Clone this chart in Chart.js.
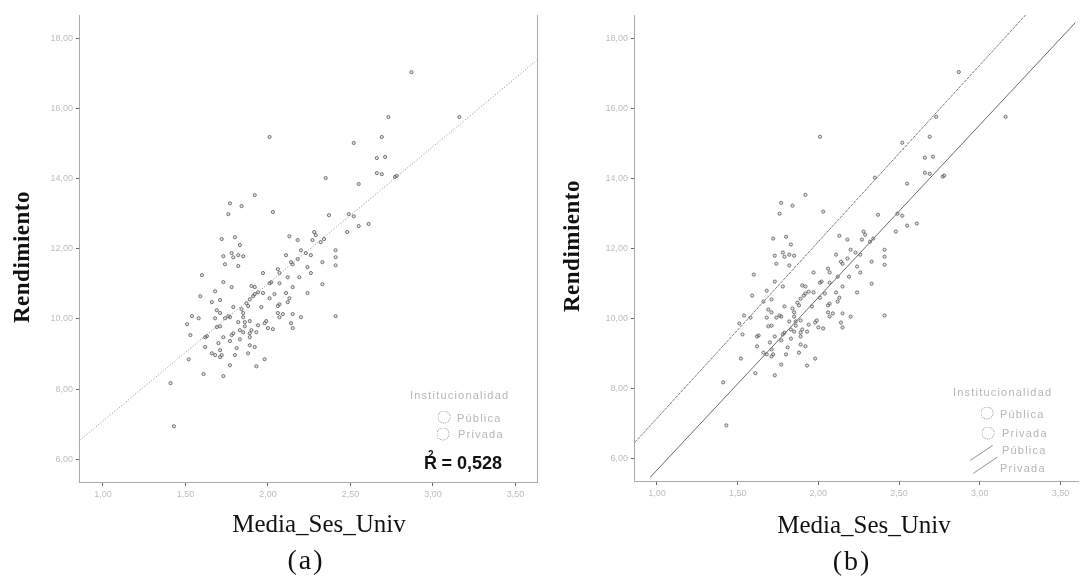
<!DOCTYPE html>
<html><head><meta charset="utf-8">
<script src="https://cdn.jsdelivr.net/npm/chart.js@4/dist/chart.umd.min.js"></script>
<style>
html,body{margin:0;padding:0;background:#fff;}
#wrap{position:relative;width:1081px;height:576px;overflow:hidden;background:#fff;}
.t{position:absolute;transform:translate(-50%,-50%);white-space:nowrap;}
.ser{font-family:"Liberation Serif","DejaVu Serif",serif;color:#111;}
.lg{position:absolute;white-space:nowrap;font-family:"Liberation Sans",Arial,sans-serif;color:#b5b5b5;font-size:11px;letter-spacing:1.2px;transform:translateY(-50%);}
.circ{position:absolute;width:11px;height:11px;border:1px dotted #888;border-radius:50%;transform:translate(-50%,-50%);}
.ln{position:absolute;height:0;border-top:1px solid #999;transform-origin:0 0;}
</style>
</head><body>
<div id="wrap">
  <div style="position:absolute;left:0;top:0;width:540px;height:576px"><canvas id="ca" width="540" height="576"></canvas></div>
  <div style="position:absolute;left:540px;top:0;width:541px;height:576px"><canvas id="cb" width="541" height="576"></canvas></div>

  <div class="t ser" style="left:22px;top:257px;transform:translate(-50%,-50%) rotate(-90deg);font-size:23px;font-weight:bold;letter-spacing:0.5px;">Rendimiento</div>
  <div class="t ser" style="left:572px;top:246px;transform:translate(-50%,-50%) rotate(-90deg);font-size:23px;font-weight:bold;letter-spacing:0.5px;">Rendimiento</div>
  <div class="t ser" style="left:319px;top:524px;font-size:25px;">Media_Ses_Univ</div>
  <div class="t ser" style="left:864px;top:525px;font-size:25px;">Media_Ses_Univ</div>
  <div class="t ser" style="left:306px;top:560px;font-size:28px;letter-spacing:2px;">(a)</div>
  <div class="t ser" style="left:852px;top:561px;font-size:28px;letter-spacing:2px;">(b)</div>

  <!-- legend a -->
  <div class="lg" style="left:410px;top:395px;">Institucionalidad</div>
  <div class="circ" style="left:444px;top:417px;"></div>
  <div class="lg" style="left:457px;top:418px;">Pública</div>
  <div class="circ" style="left:443px;top:434px;"></div>
  <div class="lg" style="left:458px;top:434px;">Privada</div>
  <div class="t" style="left:463px;top:463px;font-family:'Liberation Sans',Arial,sans-serif;font-weight:bold;font-size:18px;color:#111;">R<sup style="font-size:10px;margin-left:-9px;margin-right:3px;position:relative;top:-4px;">2</sup> = 0,528</div>

  <!-- legend b -->
  <div class="lg" style="left:953px;top:392px;">Institucionalidad</div>
  <div class="circ" style="left:987px;top:413px;"></div>
  <div class="lg" style="left:1000px;top:414px;">Pública</div>
  <div class="circ" style="left:988px;top:433px;"></div>
  <div class="lg" style="left:1002px;top:433px;">Privada</div>
  <div class="ln" style="left:970px;top:460px;width:27px;transform:rotate(-34deg);"></div>
  <div class="lg" style="left:1002px;top:450px;">Pública</div>
  <div class="ln" style="left:973px;top:473px;width:29px;transform:rotate(-34deg);"></div>
  <div class="lg" style="left:1000px;top:468px;">Privada</div>
</div>
<script>
// Media_Ses_Univ (x) and Rendimiento (y)
const publicaX = [2.87,2.73,2.01,2.69,2.52,2.35,1.92,1.77,1.84,2.03,1.76,1.72,1.80,2.13,1.83,1.73,1.78,1.79,1.82,1.85,1.74,1.82,1.97,1.60,1.73,1.90,1.78,1.59,1.68,1.66,1.71,1.79,1.69,1.71,1.68,1.54,1.58,1.51,1.53];
const publicaY = [17.04,15.76,15.19,15.19,15.02,14.02,13.53,13.30,13.22,13.05,12.99,12.28,12.33,12.36,12.11,11.79,11.88,11.76,11.82,11.79,11.56,11.51,11.31,11.25,11.05,10.94,10.91,10.65,10.79,10.48,10.54,10.34,10.25,10.17,10.02,10.08,10.02,9.85,9.54];
const privadaX = [2.66,2.71,2.66,2.69,2.77,2.78,3.16,2.55,2.37,2.49,2.52,2.55,2.61,2.48,2.28,2.29,2.18,2.27,2.32,2.34,2.20,2.23,2.26,2.41,2.41,2.11,2.18,2.33,2.15,2.14,2.41,2.06,2.07,2.24,2.26,2.12,2.19,2.33,2.02,2.01,2.07,1.92,2.15,1.87,1.89,1.91,1.92,1.94,1.88,1.97,2.04,2.11,2.13,2.12,2.24,2.01,2.07,2.06,1.96,1.84,1.85,1.85,1.77,1.76,1.74,2.06,2.09,2.07,2.15,2.20,2.41,1.86,1.89,1.82,1.99,1.98,1.94,1.71,1.69,2.14,2.15,2.00,2.03,1.83,1.85,1.90,1.89,1.93,1.86,1.79,1.78,1.63,1.62,1.73,1.77,1.83,1.89,1.70,1.89,1.92,1.62,1.81,1.71,1.66,1.68,1.72,1.71,1.80,1.88,1.52,1.98,1.77,1.93,1.61,1.73,1.41,1.43];
const privadaY = [14.59,14.62,14.16,14.13,14.05,14.08,15.76,13.85,12.96,12.99,12.93,12.65,12.71,12.48,12.48,12.39,12.25,12.25,12.19,12.28,11.96,11.88,11.82,11.96,11.76,11.82,11.71,11.62,11.56,11.62,11.53,11.42,11.31,11.48,11.31,11.19,11.19,10.99,11.05,11.02,11.02,10.91,10.91,10.45,10.56,10.65,10.71,10.76,10.37,10.74,10.71,10.74,10.59,10.48,10.74,10.59,10.42,10.37,10.34,10.28,10.17,10.05,10.05,10.08,10.02,10.17,10.14,10.05,10.14,10.05,10.08,9.91,9.94,9.91,9.94,9.88,9.82,9.79,9.77,9.88,9.74,9.74,9.71,9.68,9.62,9.68,9.59,9.62,9.79,9.59,9.54,9.51,9.48,9.48,9.37,9.42,9.48,9.31,9.25,9.20,9.20,9.17,9.11,9.02,8.97,8.97,8.91,8.97,9.02,8.85,8.85,8.68,8.65,8.43,8.37,8.17,6.94];
// fit lines: endpoints
const fitTotalX = [0.86, 3.63];
const fitTotalY = [6.54, 17.38];
const fitPublicaX = [0.864, 3.284];
const fitPublicaY = [6.456, 18.67];
const fitPrivadaX = [0.959, 3.592];
const fitPrivadaY = [5.458, 18.45];
const xTicks = [1.0, 1.5, 2.0, 2.5, 3.0, 3.5];
const yTicks = [6, 8, 10, 12, 14, 16, 18];

const pts = (xs, ys) => xs.map((x, i) => ({x: x, y: ys[i]}));
const fmt = v => Number(v).toFixed(2).replace('.', ',');

function scatterSet(label, xs, ys) {
  return {type: 'scatter', label, data: pts(xs, ys), pointRadius: 1.6, pointHoverRadius: 1.6,
    borderWidth: 1, borderColor: 'rgba(80,80,80,0.75)', backgroundColor: 'rgba(160,160,160,0.3)', order: 2};
}
function lineSet(label, xs, ys, color, dash) {
  return {type: 'line', label, data: pts(xs, ys), borderColor: color, borderWidth: 1, borderDash: dash,
    pointRadius: 0, fill: false, tension: 0, order: 1};
}

function makeChart(id, cfg) {
  const scales = {
    x: {type: 'linear', min: cfg.xMin, max: cfg.xMax,
      afterFit: s => { s.height = cfg.xH; },
      afterBuildTicks: s => { s.ticks = xTicks.map(v => ({value: v})); },
      ticks: {callback: fmt, color: '#bdbdbd', font: {size: 9, family: 'Liberation Sans'}, padding: 3, maxRotation: 0, autoSkip: false},
      grid: {drawOnChartArea: false, drawTicks: true, tickLength: 4, color: '#666'},
      border: {display: true, color: '#aaa', dash: [1, 3]}},
    y: {type: 'linear', min: 5.35, max: 18.67, position: 'left',
      afterFit: s => { s.width = cfg.yW; },
      afterBuildTicks: s => { s.ticks = yTicks.map(v => ({value: v})); },
      ticks: {callback: fmt, color: '#bdbdbd', font: {size: 9, family: 'Liberation Sans'}, padding: 3, autoSkip: false},
      grid: {drawOnChartArea: false, drawTicks: true, tickLength: 3, color: '#666'},
      border: {display: true, color: '#aaa', dash: [1, 3]}}
  };
  if (cfg.rightBorder) {
    scales.y2 = {type: 'linear', min: 5.35, max: 18.67, position: 'right',
      afterFit: s => { s.width = 0; },
      ticks: {display: false}, grid: {display: false, drawOnChartArea: false, drawTicks: false},
      border: {display: true, color: '#aaa', dash: [1, 3]}};
  }
  return new Chart(document.getElementById(id), {
    data: {datasets: cfg.datasets},
    options: {
      responsive: false, animation: false, devicePixelRatio: 1,
      layout: {padding: {left: 0, right: cfg.padR, top: 15, bottom: 0}},
      plugins: {legend: {display: false}, tooltip: {enabled: false}},
      scales
    }
  });
}

makeChart('ca', {xMin: 0.855, xMax: 3.633, xH: 94, yW: 79, padR: 1, rightBorder: true,
  datasets: [
    scatterSet('Pública', publicaX, publicaY),
    scatterSet('Privada', privadaX, privadaY),
    lineSet('Total', fitTotalX, fitTotalY, '#8a8a8a', [1, 2])
  ]});
makeChart('cb', {xMin: 0.858, xMax: 3.611, xH: 95, yW: 94, padR: 0, rightBorder: false,
  datasets: [
    scatterSet('Pública', publicaX, publicaY),
    scatterSet('Privada', privadaX, privadaY),
    lineSet('Pública', fitPublicaX, fitPublicaY, '#7a7a7a', [3, 1]),
    lineSet('Privada', fitPrivadaX, fitPrivadaY, '#6a6a6a', [])
  ]});
</script>
</body></html>
